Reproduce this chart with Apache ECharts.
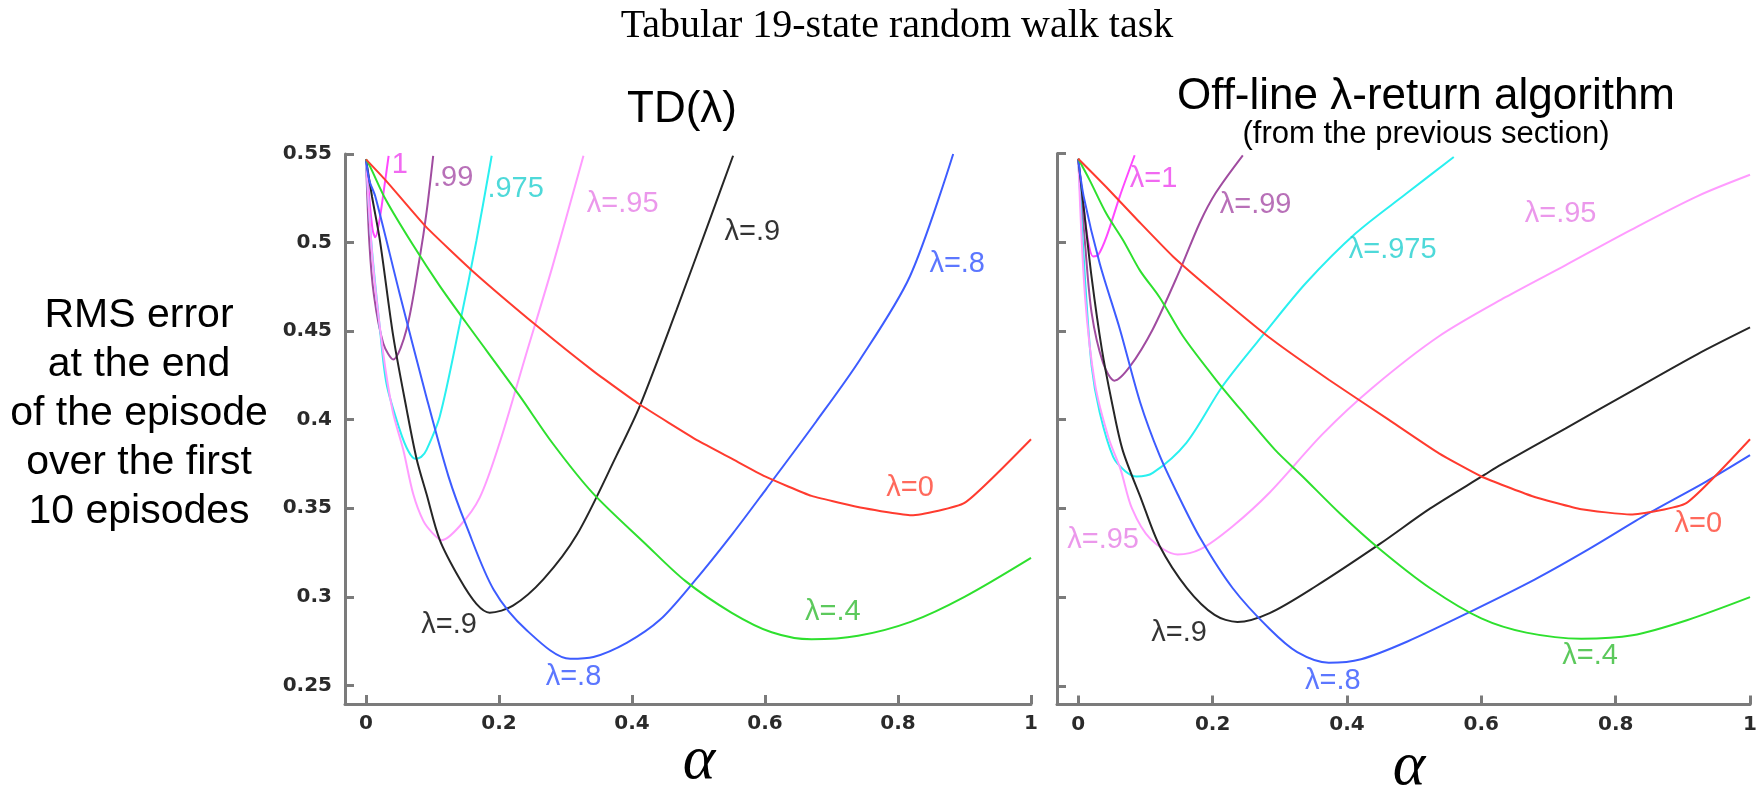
<!DOCTYPE html>
<html>
<head>
<meta charset="utf-8">
<title>Tabular 19-state random walk task</title>
<script src="https://cdn.jsdelivr.net/npm/echarts@6.0.0/dist/echarts.min.js"></script>
<style>
  html, body { margin: 0; padding: 0; background: #fff; }
  #chart { width: 1760px; height: 788px; }
</style>
</head>
<body>
<div id="chart"></div>
<script>
// axis ticks
const alphaTicks = [0, 0.2, 0.4, 0.6, 0.8, 1]
const alphaTickLabels = ['0', '0.2', '0.4', '0.6', '0.8', '1']
const rmsTicks = [0.25, 0.3, 0.35, 0.4, 0.45, 0.5, 0.55]
const rmsTickLabels = ['0.25', '0.3', '0.35', '0.4', '0.45', '0.5', '0.55']

// lambda of each curve (draw order)
const lambdas = ['1', '.99', '.975', '.95', '.9', '.8', '.4', '0']

// TD(λ) : [alpha, RMS error]
const tdLam0 = [[0, 0.547], [0.03, 0.535], [0.09, 0.509], [0.16, 0.484], [0.26, 0.452], [0.34, 0.428], [0.41, 0.409], [0.5, 0.388], [0.55, 0.378], [0.6, 0.368], [0.67, 0.357], [0.75, 0.35], [0.82, 0.346], [0.9, 0.353], [1, 0.389]]
const tdLam4 = [[0, 0.547], [0.006, 0.543], [0.03, 0.524], [0.07, 0.499], [0.11, 0.476], [0.15, 0.455], [0.23, 0.414], [0.28, 0.387], [0.34, 0.359], [0.42, 0.33], [0.48, 0.309], [0.55, 0.291], [0.61, 0.28], [0.67, 0.276], [0.74, 0.278], [0.82, 0.286], [0.9, 0.3], [1, 0.322]]
const tdLam8 = [[0, 0.547], [0.005, 0.535], [0.014, 0.526], [0.05, 0.472], [0.09, 0.414], [0.124, 0.368], [0.151, 0.34], [0.192, 0.304], [0.242, 0.281], [0.307, 0.265], [0.342, 0.266], [0.392, 0.274], [0.442, 0.287], [0.492, 0.308], [0.552, 0.336], [0.602, 0.361], [0.677, 0.399], [0.743, 0.434], [0.818, 0.481], [0.883, 0.55]]
const tdLam9 = [[0, 0.547], [0.009, 0.526], [0.021, 0.501], [0.041, 0.447], [0.061, 0.406], [0.076, 0.378], [0.091, 0.358], [0.111, 0.332], [0.141, 0.31], [0.166, 0.296], [0.186, 0.291], [0.221, 0.295], [0.267, 0.31], [0.317, 0.335], [0.377, 0.38], [0.412, 0.408], [0.467, 0.462], [0.517, 0.513], [0.552, 0.549]]
const tdLam95 = [[0, 0.547], [0.01, 0.49], [0.025, 0.44], [0.04, 0.405], [0.056, 0.383], [0.071, 0.358], [0.086, 0.343], [0.1, 0.336], [0.114, 0.332], [0.141, 0.34], [0.171, 0.356], [0.201, 0.387], [0.24, 0.436], [0.28, 0.486], [0.327, 0.549]]
const tdLam975 = [[0, 0.547], [0.008, 0.5], [0.021, 0.451], [0.031, 0.42], [0.051, 0.394], [0.064, 0.382], [0.074, 0.378], [0.083, 0.379], [0.091, 0.383], [0.111, 0.402], [0.141, 0.454], [0.166, 0.501], [0.189, 0.549]]
const tdLam99 = [[0, 0.547], [0.005, 0.5], [0.012, 0.47], [0.026, 0.443], [0.041, 0.434], [0.061, 0.451], [0.081, 0.492], [0.091, 0.517], [0.101, 0.549]]
const tdLam1 = [[0, 0.547], [0.005, 0.525], [0.01, 0.507], [0.014, 0.503], [0.02, 0.512], [0.027, 0.53], [0.034, 0.549]]

// Off-line λ-return algorithm : [alpha, RMS error]
const olLam0 = [[0, 0.547], [0.042, 0.531], [0.092, 0.511], [0.141, 0.492], [0.205, 0.471], [0.289, 0.445], [0.373, 0.4225], [0.462, 0.4], [0.537, 0.381], [0.6, 0.368], [0.675, 0.357], [0.749, 0.3495], [0.822, 0.3466], [0.905, 0.353], [1, 0.389]]
const olLam4 = [[0, 0.547], [0.017, 0.535], [0.042, 0.516], [0.067, 0.501], [0.092, 0.484], [0.121, 0.469], [0.156, 0.447], [0.205, 0.4225], [0.25, 0.402], [0.293, 0.383], [0.334, 0.368], [0.39, 0.347], [0.449, 0.327], [0.524, 0.305], [0.6, 0.288], [0.667, 0.28], [0.749, 0.2766], [0.825, 0.2785], [0.906, 0.287], [1, 0.3]]
const olLam8 = [[0, 0.547], [0.008, 0.526], [0.032, 0.488], [0.062, 0.451], [0.092, 0.41], [0.121, 0.38], [0.148, 0.358], [0.182, 0.333], [0.23, 0.305], [0.285, 0.282], [0.326, 0.269], [0.373, 0.263], [0.421, 0.265], [0.49, 0.275], [0.585, 0.292], [0.68, 0.31], [0.76, 0.327], [0.848, 0.347], [0.934, 0.365], [1, 0.38]]
const olLam9 = [[0, 0.547], [0.008, 0.52], [0.02, 0.48], [0.035, 0.44], [0.05, 0.41], [0.066, 0.383], [0.094, 0.355], [0.121, 0.329], [0.162, 0.305], [0.203, 0.29], [0.237, 0.286], [0.285, 0.291], [0.353, 0.306], [0.449, 0.33], [0.524, 0.35], [0.605, 0.369], [0.626, 0.374], [0.725, 0.395], [0.823, 0.416], [0.922, 0.437], [1, 0.452]]
const olLam95 = [[0, 0.547], [0.01, 0.47], [0.025, 0.42], [0.045, 0.39], [0.063, 0.372], [0.08, 0.35], [0.107, 0.333], [0.148, 0.324], [0.182, 0.327], [0.23, 0.34], [0.285, 0.359], [0.364, 0.392], [0.438, 0.418], [0.537, 0.447], [0.636, 0.469], [0.725, 0.487], [0.823, 0.507], [0.922, 0.526], [1, 0.538]]
const olLam975 = [[0, 0.547], [0.01, 0.48], [0.02, 0.43], [0.032, 0.404], [0.052, 0.379], [0.07, 0.371], [0.087, 0.368], [0.111, 0.37], [0.161, 0.387], [0.215, 0.419], [0.28, 0.45], [0.339, 0.477], [0.413, 0.505], [0.487, 0.527], [0.559, 0.548]]
const olLam99 = [[0, 0.547], [0.01, 0.5], [0.02, 0.46], [0.037, 0.432], [0.054, 0.422], [0.077, 0.43], [0.111, 0.451], [0.151, 0.484], [0.181, 0.511], [0.205, 0.528], [0.245, 0.549]]
const olLam1 = [[0, 0.547], [0.008, 0.52], [0.015, 0.5], [0.022, 0.492], [0.03, 0.493], [0.042, 0.503], [0.062, 0.526], [0.084, 0.549]]

// curve annotations : [text, lambda, alpha, RMS error]
const tdNotes = [
  ['1', '1', 0.051, 0.5438],
  ['.99', '.99', 0.131, 0.5367],
  ['.975', '.975', 0.225, 0.5301],
  ['λ=.95', '.95', 0.386, 0.5217],
  ['λ=.9', '.9', 0.581, 0.5061],
  ['λ=.8', '.8', 0.889, 0.4879],
  ['λ=0', '0', 0.818, 0.3616],
  ['λ=.4', '.4', 0.702, 0.2914],
  ['λ=.9', '.9', 0.125, 0.284],
  ['λ=.8', '.8', 0.312, 0.2549]
]
const olNotes = [
  ['λ=1', '1', 0.112, 0.5354],
  ['λ=.99', '.99', 0.264, 0.5209],
  ['λ=.975', '.975', 0.468, 0.4956],
  ['λ=.95', '.95', 0.718, 0.5161],
  ['λ=.95', '.95', 0.037, 0.3322],
  ['λ=0', '0', 0.923, 0.3414],
  ['λ=.9', '.9', 0.15, 0.2799],
  ['λ=.8', '.8', 0.379, 0.2528],
  ['λ=.4', '.4', 0.762, 0.2669]
]

const figureTitle = 'Tabular 19-state random walk task'
const tdTitle = 'TD(λ)'
const olTitle = 'Off-line λ-return algorithm'
const olSubtitle = '(from the previous section)'
const yName = 'RMS error\nat the end\nof the episode\nover the first\n10 episodes'
const xName = 'α'

const lineColors = {
  '0': '#ff3b2f', '.4': '#2ee02e', '.8': '#3d5cff', '.9': '#262626',
  '.95': '#ff9cff', '.975': '#2af0f0', '.99': '#a04ca0', '1': '#ff48ff'
}
const textColors = {
  '0': '#ff4433', '.4': '#33bb33', '.8': '#3355ff', '.9': '#000000',
  '.95': '#e67ee6', '.975': '#22d0d0', '.99': '#a64ca6', '1': '#ee44ee'
}

const panels = [
  {
    curves: { '0': tdLam0, '.4': tdLam4, '.8': tdLam8, '.9': tdLam9, '.95': tdLam95, '.975': tdLam975, '.99': tdLam99, '1': tdLam1 },
    notes: tdNotes,
    grid: { left: 345, top: 154, width: 686, height: 550 },
    showYLabels: true
  },
  {
    curves: { '0': olLam0, '.4': olLam4, '.8': olLam8, '.9': olLam9, '.95': olLam95, '.975': olLam975, '.99': olLam99, '1': olLam1 },
    notes: olNotes,
    grid: { left: 1057, top: 153.5, width: 695, height: 551 },
    showYLabels: false
  }
]

const axisGray = '#7b7b7b'
const sansFont = '"Liberation Sans", Arial, sans-serif'
const serifFont = '"Liberation Serif", "Times New Roman", serif'

function buildOptions () {
  const grid = []
  const xAxis = []
  const yAxis = []
  const series = []

  panels.forEach((panel, p) => {
    grid.push(panel.grid)
    xAxis.push({
      type: 'value',
      gridIndex: p,
      min: -0.0316,
      max: 1,
      axisLine: { show: true, onZero: false, lineStyle: { color: axisGray, width: 3 } },
      axisTick: { show: true, inside: true, length: 9, customValues: alphaTicks, lineStyle: { color: axisGray, width: 3 } },
      axisLabel: {
        show: true,
        customValues: alphaTicks,
        margin: 10,
        color: '#2a2a2a',
        fontFamily: 'DejaVu Sans',
        fontWeight: 'bold',
        fontSize: 20,
        formatter: v => alphaTickLabels[alphaTicks.indexOf(v)]
      },
      splitLine: { show: false }
    })
    yAxis.push({
      type: 'value',
      gridIndex: p,
      min: 0.2395,
      max: 0.55,
      axisLine: { show: true, onZero: false, lineStyle: { color: axisGray, width: 3 } },
      axisTick: { show: true, inside: true, length: 9, customValues: rmsTicks, lineStyle: { color: axisGray, width: 3 } },
      axisLabel: {
        show: panel.showYLabels,
        customValues: rmsTicks,
        margin: 13,
        color: '#2a2a2a',
        fontFamily: 'DejaVu Sans',
        fontWeight: 'bold',
        fontSize: 20,
        formatter: v => rmsTickLabels[rmsTicks.indexOf(v)]
      },
      splitLine: { show: false }
    })

    lambdas.forEach(lam => {
      series.push({
        name: 'λ=' + lam,
        type: 'line',
        xAxisIndex: p,
        yAxisIndex: p,
        data: panel.curves[lam],
        showSymbol: false,
        symbol: 'none',
        // λ=0 keeps its corners near the right end
        smooth: lam === '0' ? 0.15 : 0.3,
        clip: true,
        lineStyle: { color: lineColors[lam], width: 2 },
        z: 2
      })
    })

    // text labels next to the curves
    series.push({
      type: 'scatter',
      xAxisIndex: p,
      yAxisIndex: p,
      silent: true,
      symbolSize: 1,
      itemStyle: { color: 'rgba(0,0,0,0)' },
      z: 5,
      label: {
        show: true,
        position: 'inside',
        fontFamily: sansFont,
        fontSize: 29
      },
      data: panel.notes.map(n => ({
        value: [n[2], n[3]],
        label: { formatter: n[0], color: textColors[n[1]] }
      }))
    })
  })

  const text = (x, y, str, size, family, extra) => ({
    type: 'text',
    x: x,
    y: y,
    silent: true,
    style: Object.assign({
      text: str,
      fontSize: size,
      fontFamily: family,
      fill: '#000',
      align: 'center',
      verticalAlign: 'middle',
      textAlign: 'center',
      textVerticalAlign: 'middle'
    }, extra || {})
  })

  return {
    backgroundColor: '#ffffff',
    animation: false,
    grid: grid,
    xAxis: xAxis,
    yAxis: yAxis,
    series: series,
    graphic: [
      text(897, 26, figureTitle, 40, serifFont),
      text(682, 110, tdTitle, 44, sansFont),
      text(1426, 97, olTitle, 44, sansFont),
      text(1426, 134, olSubtitle, 31, sansFont),
      text(139, 414, yName, 41, sansFont, { lineHeight: 49 }),
      text(699, 762, xName, 62, serifFont, { fontStyle: 'italic' }),
      text(1409, 768, xName, 62, serifFont, { fontStyle: 'italic' })
    ]
  }
}

const myChart = echarts.init(document.getElementById('chart'), null, { renderer: 'canvas' })
myChart.setOption(buildOptions())
</script>
</body>
</html>
